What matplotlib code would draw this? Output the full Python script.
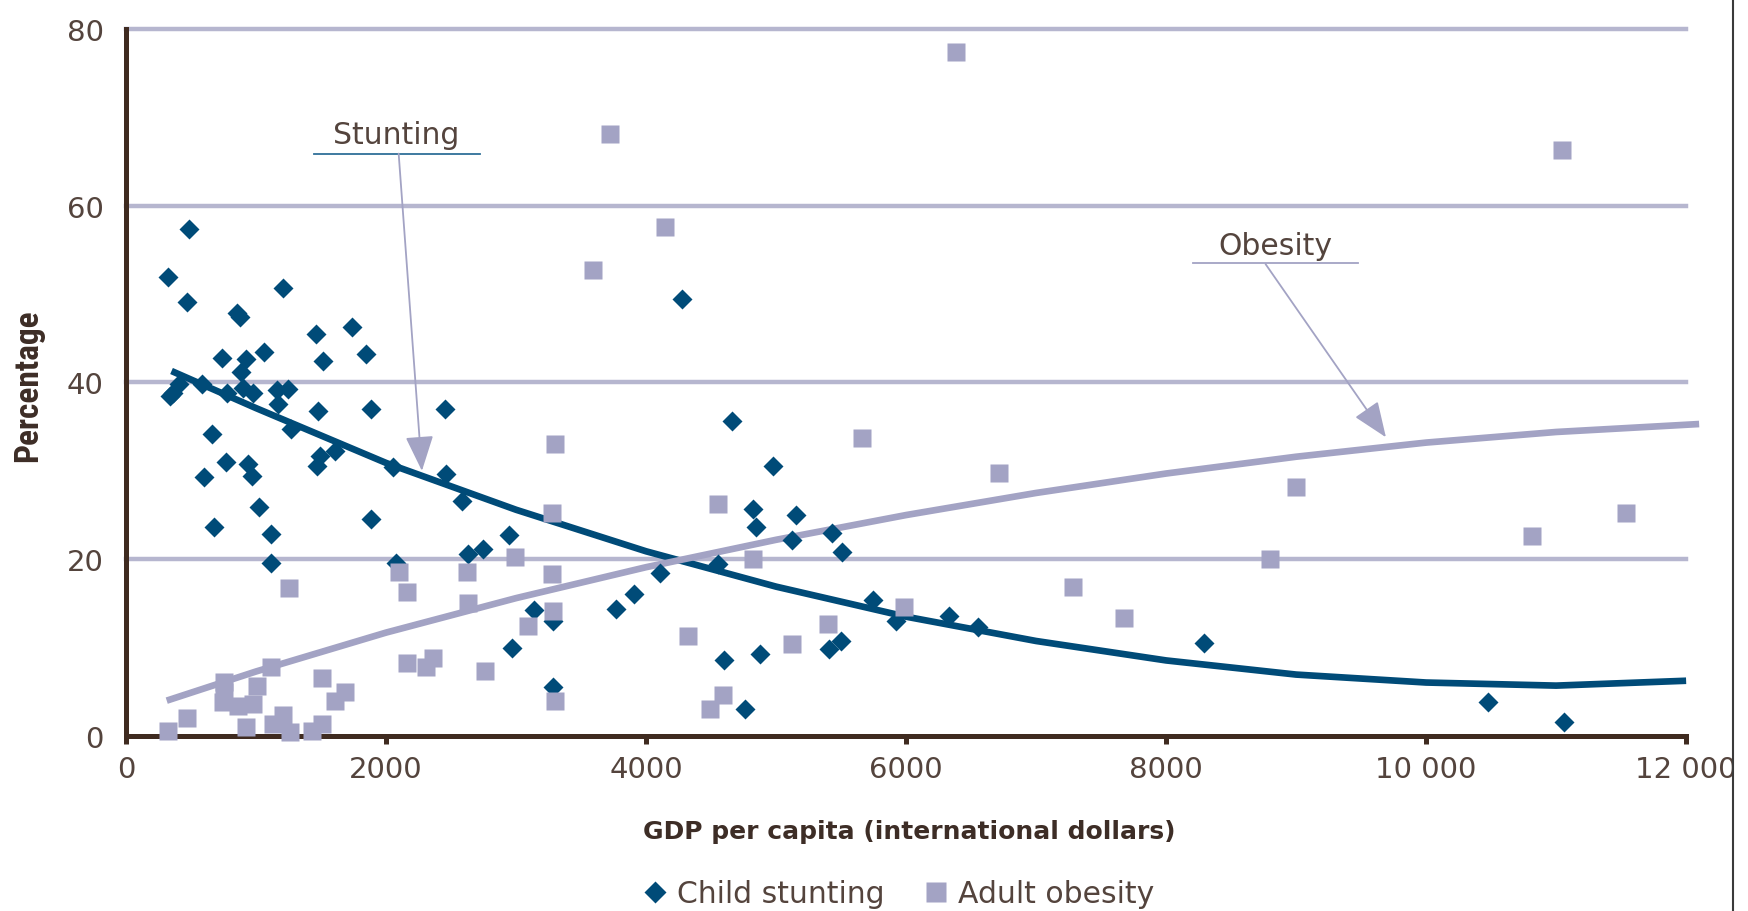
import matplotlib

matplotlib.use("Agg")
import matplotlib.pyplot as plt
from matplotlib import font_manager
from matplotlib.lines import Line2D
from matplotlib.patches import Rectangle

# Country points: GDP per capita (international dollars) vs prevalence (%)
stunting_gdp = [326, 338, 360, 410, 472, 487, 582, 602, 659, 677,
                736, 767, 779, 851, 877, 882, 903, 923, 941, 967,
                979, 1025, 1064, 1113, 1113, 1159, 1172, 1210, 1249, 1267,
                1462, 1467, 1479, 1492, 1518, 1608, 1741, 1844, 1885, 1885,
                2056, 2077, 2454, 2462, 2582, 2628, 2744, 2949, 2967, 3141,
                3282, 3282, 3767, 3910, 4108, 4279, 4556, 4600, 4659, 4762,
                4821, 4846, 4877, 4979, 5126, 5154, 5410, 5428, 5500, 5505,
                5749, 5921, 6333, 6556, 8288, 10473, 11061]
stunting_pct = [51.9, 38.5, 38.8, 39.8, 49.1, 57.4, 39.8, 29.3, 34.2, 23.6,
                42.8, 31.0, 38.8, 47.9, 47.4, 41.2, 39.4, 42.7, 30.8, 29.4,
                38.8, 25.9, 43.4, 22.9, 19.6, 39.1, 37.6, 50.7, 39.3, 34.7,
                45.5, 30.6, 36.8, 31.7, 42.4, 32.3, 46.3, 43.2, 37.0, 24.6,
                30.4, 19.6, 37.0, 29.6, 26.6, 20.6, 21.2, 22.7, 10.0, 14.2,
                13.0, 5.5, 14.4, 16.1, 18.4, 49.5, 19.5, 8.6, 35.6, 3.0,
                25.7, 23.6, 9.3, 30.5, 22.2, 25.0, 9.8, 23.0, 10.7, 20.8,
                15.4, 13.0, 13.6, 12.3, 10.5, 3.8, 1.6]

obesity_gdp = [326, 467, 749, 752, 755, 864, 923, 979, 1005, 1115,
               1133, 1205, 1256, 1261, 1428, 1505, 1505, 1608, 1685, 2102,
               2164, 2164, 2308, 2364, 2620, 2633, 2761, 2992, 3095, 3274,
               3274, 3282, 3300, 3300, 3590, 3723, 4146, 4326, 4492, 4556,
               4590, 4821, 5126, 5402, 5664, 5985, 6382, 6715, 7282, 7679,
               8798, 9003, 10811, 11048, 11540]
obesity_pct = [0.6, 2.0, 3.8, 5.0, 6.1, 3.4, 1.0, 3.6, 5.7, 7.8,
               1.4, 2.4, 16.7, 0.4, 0.6, 6.6, 1.4, 4.0, 5.0, 18.5,
               16.3, 8.3, 7.8, 8.8, 18.5, 15.1, 7.3, 20.2, 12.5, 25.2,
               18.3, 14.1, 33.0, 4.0, 52.7, 68.1, 57.6, 11.3, 3.1, 26.2,
               4.6, 20.0, 10.4, 12.7, 33.7, 14.6, 77.4, 29.8, 16.9, 13.3,
               20.0, 28.2, 22.6, 66.3, 25.2]

# Trend curves, sampled along the GDP axis
stunting_fit_gdp = [350, 1000, 2000, 3000, 4000, 5000, 6000, 7000, 8000,
                    9000, 10000, 11000, 12000]
stunting_fit_pct = [41.3, 37.1, 30.9, 25.6, 20.9, 16.9, 13.5, 10.75, 8.55,
                    6.95, 6.05, 5.7, 6.25]
obesity_fit_gdp = [313, 1000, 2000, 3000, 4000, 5000, 6000, 7000, 8000,
                   9000, 10000, 11000, 12100]
obesity_fit_pct = [4.0, 7.3, 11.7, 15.6, 19.1, 22.2, 25.0, 27.5, 29.7,
                   31.6, 33.2, 34.4, 35.3]

x_ticks = [0, 2000, 4000, 6000, 8000, 10000, 12000]
x_tick_labels = ["0", "2000", "4000", "6000", "8000", "10 000", "12 000"]
y_ticks = [0, 20, 40, 60, 80]
grid_levels = [20, 40, 60, 80]

BLUE = "#004b78"
LAV = "#a3a3c4"
GRID = "#b6b6cf"
AXIS = "#3f2b20"
TEXT = "#3d2d26"
TEXT_LIGHT = "#54443d"
UNDERLINE_BLUE = "#2f7098"


def pick_family(*names):
    available = {f.name for f in font_manager.fontManager.ttflist}
    for name in names:
        if name in available:
            return name
    return "DejaVu Sans"


NARROW = pick_family("Liberation Sans Narrow", "Roboto Condensed", "DejaVu Sans")
PLAIN = "DejaVu Sans"

fig = plt.figure(figsize=(17.48, 9.12), dpi=100)
ax = fig.add_axes([0.0721, 0.1919, 0.8925, 0.7752])

for level in grid_levels:
    ax.axhline(level, color=GRID, lw=3.2, zorder=0, clip_on=False)

ax.plot(stunting_fit_gdp, stunting_fit_pct, color=BLUE, lw=4.8,
        solid_capstyle="butt", solid_joinstyle="round", zorder=2,
        clip_on=False)
ax.plot(obesity_fit_gdp, obesity_fit_pct, color=LAV, lw=4.8,
        solid_capstyle="butt", solid_joinstyle="round", zorder=2.2,
        clip_on=False)

ax.plot(stunting_gdp, stunting_pct, ls="none", marker="D", ms=10.6,
        color=BLUE, mec="none", zorder=3, clip_on=False)
ax.plot(obesity_gdp, obesity_pct, ls="none", marker="s", ms=12.6,
        color=LAV, mec="none", zorder=4, clip_on=False)

ax.set_xlim(0, 12000)
ax.set_ylim(0, 80)
ax.set_xticks(x_ticks)
ax.set_xticklabels(x_tick_labels)
ax.set_yticks(y_ticks)

for side in ("top", "right"):
    ax.spines[side].set_visible(False)
for side in ("left", "bottom"):
    ax.spines[side].set_color(AXIS)
    ax.spines[side].set_linewidth(3.6)
    ax.spines[side].set_capstyle("projecting")

ax.tick_params(axis="x", direction="out", length=6, width=3.6, color=AXIS,
               pad=8, labelsize=21, labelcolor=TEXT_LIGHT)
ax.tick_params(axis="y", length=0, pad=16, labelsize=21,
               labelcolor=TEXT_LIGHT)
for lbl in ax.get_xticklabels() + ax.get_yticklabels():
    lbl.set_family(PLAIN)

ax.set_xlabel("GDP per capita (international dollars)", family=PLAIN,
              weight="bold", fontsize=18, color=TEXT, va="center")
ax.xaxis.set_label_coords(0.502, -0.135)
ax.set_ylabel("Percentage", family=NARROW, weight="bold", fontsize=24,
              color=TEXT, va="center", ha="center")
ax.yaxis.set_label_coords(-0.063, 0.497)

# callout labels with underline and arrow to each trend curve
arrow_style = dict(arrowstyle="-|>,head_length=1.0,head_width=0.4",
                   color=LAV, lw=1.3, shrinkA=0, shrinkB=0, mutation_scale=22)

ax.text(2080, 68.1, "Stunting", ha="center", va="center", family=PLAIN,
        fontsize=21.5, color=TEXT_LIGHT)
ax.plot([1445, 2722], [65.9, 65.9], color=UNDERLINE_BLUE, lw=1.3,
        clip_on=False, zorder=5)
ax.annotate("", xy=(2276, 30.0), xytext=(2097, 65.9),
            arrowprops=arrow_style, zorder=5)

ax.text(8844, 55.5, "Obesity", ha="center", va="center", family=PLAIN,
        fontsize=21.5, color=TEXT_LIGHT)
ax.plot([8208, 9477], [53.5, 53.5], color=LAV, lw=1.3, clip_on=False,
        zorder=5)
ax.annotate("", xy=(9691, 33.8), xytext=(8765, 53.4),
            arrowprops=arrow_style, zorder=5)

handles = [
    Line2D([], [], ls="none", marker="D", ms=11, color=BLUE, mec="none",
           label="Child stunting"),
    Line2D([], [], ls="none", marker="s", ms=14, color=LAV, mec="none",
           label="Adult obesity"),
]
fig.legend(handles=handles, loc="center", bbox_to_anchor=(0.514, 0.019),
           ncol=2, frameon=False, handlelength=0.8, handletextpad=0.35,
           columnspacing=1.3, borderpad=0,
           prop={"family": PLAIN, "size": 21.5}, labelcolor=TEXT_LIGHT)

# page edge on the right
fig.add_artist(Rectangle((0.9914, 0), 0.0086, 1, transform=fig.transFigure,
                         color="white", zorder=10))
fig.add_artist(Line2D([0.9914, 0.9914], [0, 1], transform=fig.transFigure,
                      color="#3a3a3a", lw=1.5, zorder=11))

fig.savefig("out.png", dpi=100)
